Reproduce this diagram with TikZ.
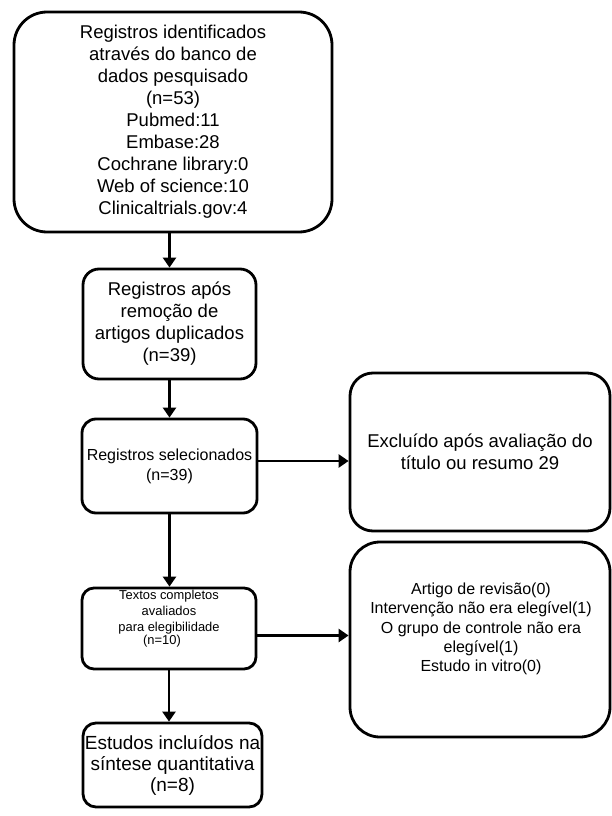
\documentclass[tikz,border=0pt]{standalone}
\usepackage{fontspec}
\setmainfont{Liberation Sans}
\usetikzlibrary{arrows.meta,calc}
\begin{document}
\begin{tikzpicture}[x=1pt,y=-1pt,
  box/.style={draw=black,line width=2.8pt,fill=white,inner sep=0pt,align=center,text=black},
  arr/.style={line width=2.8pt,draw=black,-{Triangle[width=13pt,length=10pt]}},
  txt/.style={align=center,inner sep=0pt,text=black}]
\useasboundingbox (0,0) rectangle (611,816);

\node[box,rounded corners=33pt,minimum width=318pt,minimum height=220pt,
  font=\fontsize{18.5}{22}\selectfont] (b1) at (173,122)
  {Registros identificados\\através do banco de\\dados pesquisado\\(n=53)\\Pubmed:11\\Embase:28\\Cochrane library:0\\Web of science:10\\Clinicaltrials.gov:4};

\node[box,rounded corners=16pt,minimum width=173pt,minimum height=110pt,
  font=\fontsize{18.5}{22}\selectfont] (b2) at (169.5,324)
  {Registros após\\remoção de\\artigos duplicados\\(n=39)};

\node[box,rounded corners=14pt,minimum width=175pt,minimum height=94pt,
  font=\fontsize{16}{20}\selectfont] (b3) at (169.5,466)
  {Registros selecionados\\(n=39)};

\node[box,rounded corners=12pt,minimum width=174pt,minimum height=81pt] (b4) at (169,628.5) {};
\node[txt,font=\fontsize{12.9}{16}\selectfont] (t4) at (169,619)
  {Textos completos\\avaliados\\para elegibilidade\\[-3pt]\hspace*{-14pt}(n=10)};

\node[box,rounded corners=13pt,minimum width=179pt,minimum height=84pt,
  font=\fontsize{19}{21}\selectfont] (b5) at (172.5,765)
  {Estudos incluídos na\\síntese quantitativa\\(n=8)};

\node[box,rounded corners=23pt,minimum width=260pt,minimum height=158pt,
  font=\fontsize{18.5}{22}\selectfont] (r1) at (480,452)
  {Excluído após avaliação do\\título ou resumo 29};

\node[box,rounded corners=30pt,minimum width=260pt,minimum height=195pt] (r2) at (480,639.5) {};
\node[txt,font=\fontsize{16}{19.3}\selectfont] (t6) at (481,629)
  {Artigo de revisão(0)\\Intervenção não era elegível(1)\\O grupo de controle não era\\elegível(1)\\Estudo in vitro(0)};

\coordinate (c3) at ($(b3.east)+(0,-5)$);
\coordinate (c4) at ($(b4.east)+(0,7)$);

\draw[arr] (b1.south -| b2.north) -- (b2.north);
\draw[arr] (b2.south) -- (b3.north);
\draw[arr] (b3.south) -- (b3.south |- b4.north);
\draw[arr] (b4.south) -- (b4.south |- b5.north);
\draw[arr] (c3) -- (c3 -| r1.west);
\draw[arr] (c4) -- (c4 -| r2.west);
\end{tikzpicture}
\end{document}
